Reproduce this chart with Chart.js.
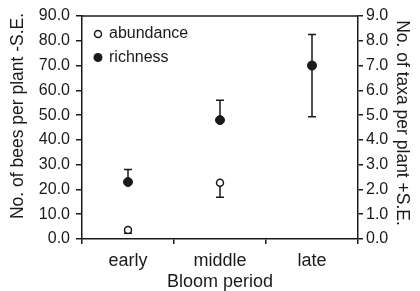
<!DOCTYPE html>
<html><head><meta charset="utf-8">
<script src="https://cdn.jsdelivr.net/npm/chart.js@4.4.0/dist/chart.umd.min.js"></script>
<style>html,body{margin:0;padding:0;background:#fff}#wrap{width:420px;height:291px}</style>
</head><body><div id="wrap"><canvas id="c" width="420" height="291"></canvas></div>
<script>
const categories = ['early', 'middle', 'late'];
const abundance = [3.6, 22.7, 70.0];
const abundanceSE = [1.3, 5.9, 20.7];
const richness = [2.3, 4.8, 7.0];
const richnessSE = [0.5, 0.8, 1.25];
const leftTickLabels = ['0.0','10.0','20.0','30.0','40.0','50.0','60.0','70.0','80.0','90.0'];
const rightTickLabels = ['0.0','1.0','2.0','3.0','4.0','5.0','6.0','7.0','8.0','9.0'];
const leftTitle = 'No. of bees per plant -S.E.';
const rightTitle = 'No. of taxa per plant +S.E.';
const xTitle = 'Bloom period';
const legendLabels = ['abundance', 'richness'];

const FONT = "'Liberation Sans', Arial, Helvetica, sans-serif";
const INK = '#1a1a1a';

const errorBars = {
  id: 'errorBars',
  beforeDatasetsDraw(chart) {
    const ctx = chart.ctx;
    const x = chart.scales.x, yL = chart.scales.y, yR = chart.scales.y1;
    ctx.save();
    ctx.strokeStyle = INK;
    ctx.lineWidth = 1.5;
    const cap = 4;
    categories.forEach((c, i) => {
      const px = x.getPixelForValue(i);
      // abundance: -S.E.
      let y0 = yL.getPixelForValue(abundance[i]);
      let y1 = yL.getPixelForValue(abundance[i] - abundanceSE[i]);
      ctx.beginPath();
      ctx.moveTo(px, y0); ctx.lineTo(px, y1);
      ctx.moveTo(px - cap, y1); ctx.lineTo(px + cap, y1);
      ctx.stroke();
      // richness: +S.E.
      y0 = yR.getPixelForValue(richness[i]);
      y1 = yR.getPixelForValue(richness[i] + richnessSE[i]);
      ctx.beginPath();
      ctx.moveTo(px, y0); ctx.lineTo(px, y1);
      ctx.moveTo(px - cap, y1); ctx.lineTo(px + cap, y1);
      ctx.stroke();
    });
    ctx.restore();
  }
};

const decorations = {
  id: 'decorations',
  afterDraw(chart) {
    const ctx = chart.ctx;
    const a = chart.chartArea;
    ctx.save();
    // top frame line
    ctx.strokeStyle = INK;
    ctx.lineWidth = 1.5;
    ctx.beginPath();
    ctx.moveTo(a.left, a.top); ctx.lineTo(a.right, a.top);
    ctx.stroke();
    // legend
    ctx.lineWidth = 1.5;
    ctx.beginPath();
    ctx.arc(98, 34, 3.5, 0, Math.PI * 2);
    ctx.fillStyle = '#fff'; ctx.fill(); ctx.stroke();
    ctx.beginPath();
    ctx.arc(98, 57.5, 4.5, 0, Math.PI * 2);
    ctx.fillStyle = INK; ctx.fill();
    ctx.fillStyle = INK;
    ctx.font = '16px ' + FONT;
    ctx.textBaseline = 'middle';
    ctx.textAlign = 'left';
    ctx.fillText(legendLabels[0], 109, 34);
    ctx.fillText(legendLabels[1], 109, 57.5);
    // axis titles
    ctx.font = '17.5px ' + FONT;
    ctx.textAlign = 'center';
    ctx.save();
    ctx.translate(18, 116);
    ctx.rotate(-Math.PI / 2);
    ctx.fillText(leftTitle, 0, 0);
    ctx.restore();
    ctx.save();
    ctx.translate(402, 123);
    ctx.rotate(Math.PI / 2);
    ctx.fillText(rightTitle, 0, 0);
    ctx.restore();
    ctx.restore();
  }
};

new Chart(document.getElementById('c'), {
  type: 'line',
  data: {
    labels: categories,
    datasets: [
      {
        label: legendLabels[1], data: richness, yAxisID: 'y1', showLine: false, order: 0,
        pointRadius: 4.5, pointBackgroundColor: INK, pointBorderColor: INK, pointBorderWidth: 1
      },
      {
        label: legendLabels[0], data: abundance, yAxisID: 'y', showLine: false, order: 1,
        pointRadius: 3.5, pointBackgroundColor: '#fff', pointBorderColor: INK, pointBorderWidth: 1.5
      }
    ]
  },
  options: {
    responsive: false,
    animation: false,
    devicePixelRatio: 1,
    layout: { padding: { top: 16, left: 0, right: 0, bottom: 0 } },
    plugins: { legend: { display: false }, tooltip: { enabled: false } },
    scales: {
      x: {
        type: 'category', offset: true,
        grid: { offset: true, drawOnChartArea: false, drawTicks: true, tickLength: 5, color: INK, lineWidth: 1.5 },
        border: { color: INK, width: 1.5 },
        ticks: { color: INK, font: { size: 18, family: FONT }, padding: 6, maxRotation: 0 },
        title: { display: true, text: xTitle, color: INK, font: { size: 18, family: FONT, lineHeight: 1.0 }, padding: 0 },
        afterFit(s) { s.height = 52; }
      },
      y: {
        position: 'left', min: 0, max: 90,
        grid: { drawOnChartArea: false, drawTicks: true, tickLength: 6, color: INK, lineWidth: 1.5 },
        border: { color: INK, width: 1.5 },
        ticks: { stepSize: 10, color: INK, font: { size: 16, family: FONT }, padding: 6,
          callback: (v, i) => leftTickLabels[i] },
        afterFit(s) { s.width = 82; }
      },
      y1: {
        position: 'right', min: 0, max: 9,
        grid: { drawOnChartArea: false, drawTicks: true, tickLength: 5, color: INK, lineWidth: 1.5 },
        border: { color: INK, width: 1.5 },
        ticks: { stepSize: 1, color: INK, font: { size: 16, family: FONT }, padding: 3,
          callback: (v, i) => rightTickLabels[i] },
        afterFit(s) { s.width = 62; }
      }
    }
  },
  plugins: [errorBars, decorations]
});
</script></body></html>
